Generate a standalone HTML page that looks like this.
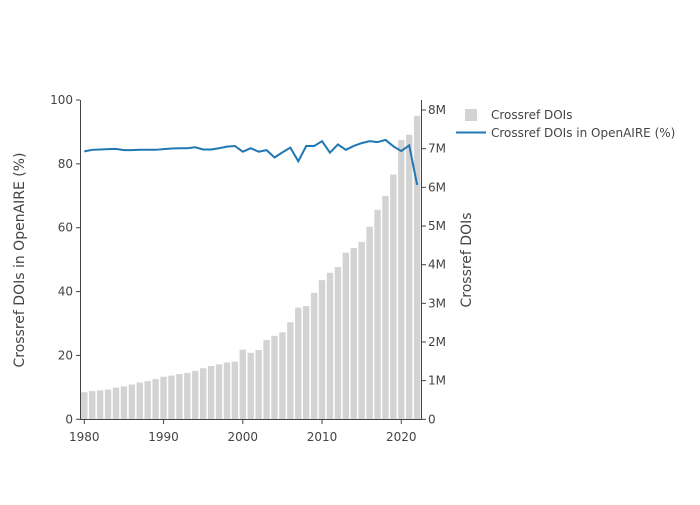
<!DOCTYPE html>
<html><head><meta charset="utf-8"><style>
body{margin:0;background:#fff}
text{font-family:"DejaVu Sans","Liberation Sans",sans-serif;fill:#444}
</style></head><body>
<svg id="c" width="700" height="500"></svg>
<script>
const years=[];for(let y=1980;y<=2022;y++)years.push(y);
const dois=[0.70,0.73,0.75,0.77,0.82,0.85,0.90,0.95,0.99,1.04,1.10,1.13,1.17,1.20,1.25,1.32,1.38,1.42,1.47,1.49,1.80,1.72,1.79,2.05,2.16,2.25,2.51,2.89,2.93,3.27,3.60,3.79,3.94,4.31,4.43,4.59,4.98,5.42,5.78,6.33,7.22,7.36,7.85];
const pct=[83.9,84.4,84.5,84.6,84.7,84.3,84.3,84.4,84.4,84.4,84.6,84.8,84.9,84.9,85.2,84.5,84.5,84.9,85.4,85.6,83.8,84.9,83.8,84.3,82.0,83.6,85.1,80.8,85.6,85.6,87.1,83.5,86.1,84.4,85.6,86.5,87.1,86.8,87.5,85.5,84.0,85.8,73.4];
const leftTicks=[0,20,40,60,80,100];
const rightTicks=[0,1,2,3,4,5,6,7,8];
const xTicks=[1980,1990,2000,2010,2020];
const NS="http://www.w3.org/2000/svg",svg=document.getElementById('c');
const X=y=>84.3+(y-1980)*7.925;
const YL=v=>419.3-v*3.193;
const YR=v=>419.3-v*38.66;
function el(t,a,p){const e=document.createElementNS(NS,t);for(const k in a)e.setAttribute(k,a[k]);(p||svg).appendChild(e);return e;}
years.forEach((y,i)=>{const b=el('rect',{x:X(y)-3.2,y:YR(dois[i]),width:6.4,height:YR(0)-YR(dois[i]),fill:'#d3d3d3'});

});
const ln=el('polyline',{points:years.map((y,i)=>X(y)+','+YL(pct[i])).join(' '),fill:'none',stroke:'#1f77b4','stroke-width':2});


const ax=el('g',{stroke:'#444','stroke-width':1});


el('line',{x1:80.5,y1:100,x2:80.5,y2:420},ax);
el('line',{x1:421.5,y1:100,x2:421.5,y2:420},ax);
el('line',{x1:80,y1:419.5,x2:422,y2:419.5},ax);
leftTicks.forEach(v=>{el('line',{x1:76,x2:80,y1:YL(v),y2:YL(v)},ax);
const t=el('text',{x:73,y:YL(v)+4,'text-anchor':'end','font-size':12});t.textContent=v;

});
rightTicks.forEach(v=>{el('line',{x1:422,x2:426,y1:YR(v),y2:YR(v)},ax);
const t=el('text',{x:428,y:YR(v)+4,'font-size':12});t.textContent=v?v+'M':'0';

});
xTicks.forEach(v=>{el('line',{x1:X(v),x2:X(v),y1:420,y2:424},ax);
const t=el('text',{x:X(v),y:441,'text-anchor':'middle','font-size':12});t.textContent=v;

});
const lt=el('text',{x:0,y:0,'font-size':14,'text-anchor':'middle',transform:'translate(24,260) rotate(-90)'});lt.textContent='Crossref DOIs in OpenAIRE (%)';


const rt=el('text',{x:0,y:0,'font-size':14,'text-anchor':'middle',transform:'translate(471,260) rotate(-90)'});rt.textContent='Crossref DOIs';


const lg=el('g',{});


el('rect',{x:465,y:109,width:12,height:12,fill:'#d3d3d3'},lg);
let t1=el('text',{x:491,y:119,'font-size':12},lg);t1.textContent='Crossref DOIs';
el('line',{x1:456,x2:486,y1:132.5,y2:132.5,stroke:'#1f77b4','stroke-width':2},lg);
let t2=el('text',{x:491,y:137,'font-size':12},lg);t2.textContent='Crossref DOIs in OpenAIRE (%)';
</script></body></html>
